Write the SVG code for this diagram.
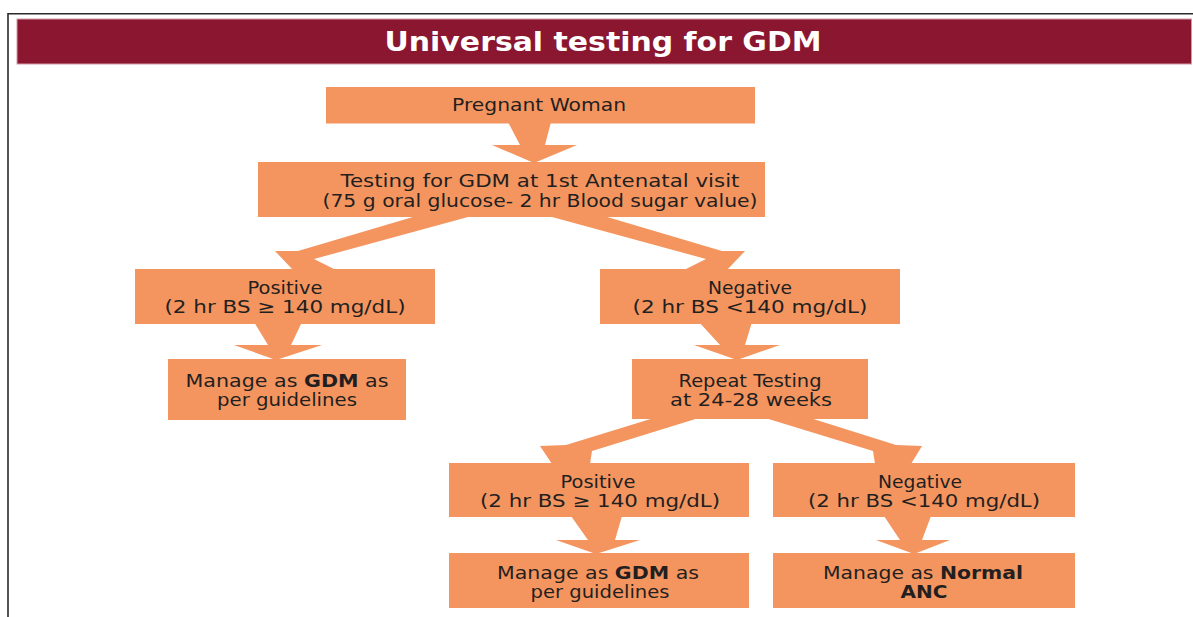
<svg xmlns="http://www.w3.org/2000/svg" width="1193" height="617" viewBox="0 0 1193 617">
  <style>
    .frame { fill: none; stroke: #2a2a2a; stroke-width: 1.6; }
    .banner { fill: #8a1630; stroke: #d49aa5; stroke-width: 1; }
    .title { font-family: "DejaVu Sans", "Liberation Sans", sans-serif; font-weight: bold; font-size: 27px; fill: #ffffff; text-anchor: middle; }
    .box { fill: #f4955f; }
    .arrow { fill: #f4955f; }
    .lbl { font-family: "DejaVu Sans", "Liberation Sans", sans-serif; font-size: 17.5px; fill: #231f20; text-anchor: middle; }
    .b { font-weight: bold; }
  </style>

  <!-- page frame -->
  <path class="frame" d="M8,617 V13.8 H1193"/>

  <!-- title banner -->
  <g id="banner">
    <rect class="banner" x="17" y="19" width="1174.5" height="45"/>
    <text class="title" x="603" y="50.5" textLength="437" lengthAdjust="spacingAndGlyphs">Universal testing for GDM</text>
  </g>

  <!-- block arrows -->
  <g id="connectors">
    <polygon class="arrow" points="508,122 551,122 545,145 577,145 534,163 492,145 520,145"/>
    <polygon class="arrow" points="423,214 479,214 314,259 336,270 293,270 275,251 298,251"/>
    <polygon class="arrow" points="597,214 541,214 706,259 684,270 727,270 745,251 722,251"/>
    <polygon class="arrow" points="254,322 302,322 291,345 322,345 276,360 234,345 268,345"/>
    <polygon class="arrow" points="699,322 752,322 745,345 780,345 737,360 694,345 720,345"/>
    <polygon class="arrow" points="657,417 702,417 592,451 590,464 552,464 540,446 566,445"/>
    <polygon class="arrow" points="807,417 762,417 873,451 875,464 911,464 922,446 896,445"/>
    <polygon class="arrow" points="571,516 622,516 615,540 640,540 596,554 556,540 588,540"/>
    <polygon class="arrow" points="884,516 931,516 922,540 950,540 914,554 876,540 900,540"/>
  </g>

  <g id="pregnant-woman">
    <rect class="box" x="326" y="87" width="429" height="36.5"/>
    <text class="lbl" x="539" y="111" textLength="174" lengthAdjust="spacingAndGlyphs">Pregnant Woman</text>
  </g>

  <g id="first-visit-test">
    <rect class="box" x="258" y="162" width="507" height="55"/>
    <text class="lbl" x="540" y="186.5" textLength="399" lengthAdjust="spacingAndGlyphs">Testing for GDM at 1st Antenatal visit</text>
    <text class="lbl" x="540" y="206.5" textLength="435" lengthAdjust="spacingAndGlyphs">(75 g oral glucose- 2 hr Blood sugar value)</text>
  </g>

  <g id="positive-1">
    <rect class="box" x="135" y="269" width="300" height="55"/>
    <text class="lbl" x="285" y="294" textLength="75" lengthAdjust="spacingAndGlyphs">Positive</text>
    <text class="lbl" x="285" y="312.5" textLength="241" lengthAdjust="spacingAndGlyphs">(2 hr BS ≥ 140 mg/dL)</text>
  </g>

  <g id="negative-1">
    <rect class="box" x="600" y="269" width="300" height="55"/>
    <text class="lbl" x="750" y="294" textLength="84" lengthAdjust="spacingAndGlyphs">Negative</text>
    <text class="lbl" x="750" y="312.5" textLength="235" lengthAdjust="spacingAndGlyphs">(2 hr BS &lt;140 mg/dL)</text>
  </g>

  <g id="manage-gdm-1">
    <rect class="box" x="168" y="359" width="238" height="61"/>
    <text class="lbl" x="287" y="387" textLength="203" lengthAdjust="spacingAndGlyphs">Manage as <tspan class="b">GDM</tspan> as</text>
    <text class="lbl" x="287" y="405.5" textLength="140" lengthAdjust="spacingAndGlyphs">per guidelines</text>
  </g>

  <g id="repeat-testing">
    <rect class="box" x="632" y="359" width="236" height="60"/>
    <text class="lbl" x="750" y="387" textLength="143" lengthAdjust="spacingAndGlyphs">Repeat Testing</text>
    <text class="lbl" x="751" y="405.5" textLength="162" lengthAdjust="spacingAndGlyphs">at 24-28 weeks</text>
  </g>

  <g id="positive-2">
    <rect class="box" x="449" y="463" width="300" height="54"/>
    <text class="lbl" x="598" y="488" textLength="75" lengthAdjust="spacingAndGlyphs">Positive</text>
    <text class="lbl" x="600" y="506.5" textLength="240" lengthAdjust="spacingAndGlyphs">(2 hr BS ≥ 140 mg/dL)</text>
  </g>

  <g id="negative-2">
    <rect class="box" x="773" y="463" width="302" height="54"/>
    <text class="lbl" x="920" y="488" textLength="84" lengthAdjust="spacingAndGlyphs">Negative</text>
    <text class="lbl" x="924" y="506.5" textLength="232" lengthAdjust="spacingAndGlyphs">(2 hr BS &lt;140 mg/dL)</text>
  </g>

  <g id="manage-gdm-2">
    <rect class="box" x="449" y="553" width="300" height="55"/>
    <text class="lbl" x="598" y="579" textLength="202" lengthAdjust="spacingAndGlyphs">Manage as <tspan class="b">GDM</tspan> as</text>
    <text class="lbl" x="600" y="597.5" textLength="139" lengthAdjust="spacingAndGlyphs">per guidelines</text>
  </g>

  <g id="manage-normal">
    <rect class="box" x="773" y="553" width="302" height="55"/>
    <text class="lbl" x="923" y="579" textLength="200" lengthAdjust="spacingAndGlyphs">Manage as <tspan class="b">Normal</tspan></text>
    <text class="lbl b" x="924" y="597.5" textLength="47" lengthAdjust="spacingAndGlyphs">ANC</text>
  </g>
</svg>
